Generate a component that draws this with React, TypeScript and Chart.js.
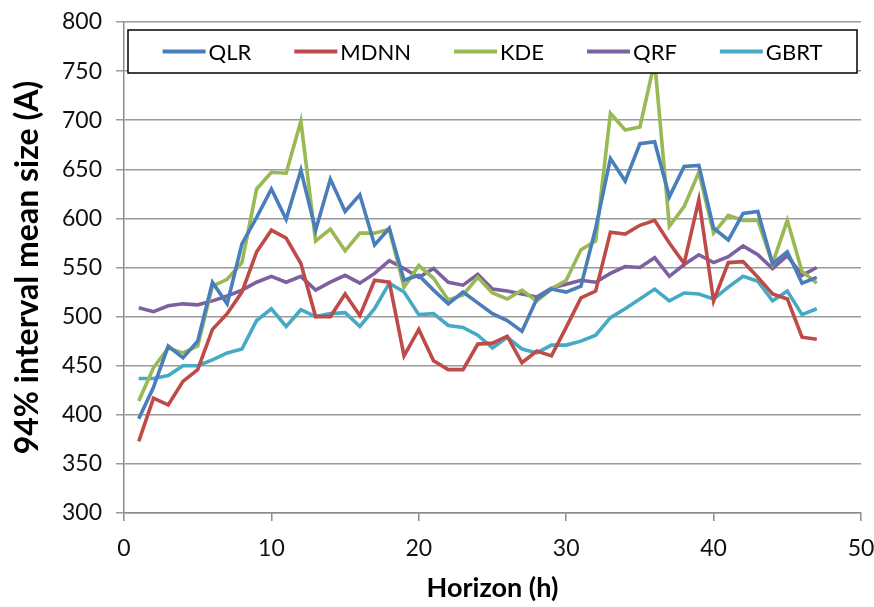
import React, { useEffect, useRef } from "react";
import { Chart, registerables } from "chart.js";

Chart.register(...registerables);

const horizons = [1, 2, 3, 4, 5, 6, 7, 8, 9, 10, 11, 12, 13, 14, 15, 16, 17, 18, 19, 20, 21, 22, 23, 24, 25, 26, 27, 28, 29, 30, 31, 32, 33, 34, 35, 36, 37, 38, 39, 40, 41, 42, 43, 44, 45, 46, 47];

const qlr = [396, 428, 470, 458, 475, 535, 513, 574, 601, 630, 599, 649, 588, 640, 607, 624, 573, 590, 537, 542, 527, 513, 525, 514, 503, 496, 485, 518, 528, 525, 531, 590, 661, 638, 676, 678, 622, 653, 654, 590, 578, 605, 607, 554, 566, 534, 540];
const mdnn = [373, 417, 410, 434, 446, 487, 503, 525, 566, 588, 580, 554, 500, 500, 523, 501, 537, 535, 460, 487, 455, 446, 446, 472, 473, 480, 453, 465, 460, 489, 519, 526, 586, 584, 593, 598, 575, 554, 619, 516, 555, 556, 540, 523, 518, 479, 477];
const kde = [414, 448, 468, 463, 470, 531, 538, 555, 630, 647, 646, 699, 577, 589, 567, 585, 585, 589, 530, 552, 539, 517, 522, 540, 524, 518, 527, 516, 528, 537, 568, 577, 707, 690, 693, 760, 592, 612, 647, 585, 603, 598, 598, 554, 598, 546, 534];
const qrf = [509, 505, 511, 513, 512, 516, 521, 527, 535, 541, 535, 541, 527, 535, 542, 534, 544, 557, 549, 540, 549, 535, 532, 543, 528, 526, 523, 520, 529, 533, 537, 535, 544, 551, 550, 560, 541, 553, 563, 555, 561, 572, 563, 549, 562, 542, 550];
const gbrt = [437, 437, 440, 450, 450, 456, 463, 467, 496, 508, 490, 507, 500, 503, 504, 490, 508, 534, 525, 502, 503, 491, 489, 481, 468, 479, 467, 463, 471, 471, 475, 481, 499, 508, 518, 528, 516, 524, 523, 518, 530, 541, 536, 516, 526, 502, 508];

const seriesNames = ["QLR", "MDNN", "KDE", "QRF", "GBRT"];
const seriesValues = [qlr, mdnn, kde, qrf, gbrt];
const seriesColors = ["#4A7EBB", "#BE4B48", "#98B954", "#7D60A0", "#46AAC5"];

const xTicks = [0, 10, 20, 30, 40, 50];
const yMin = 300;
const yMax = 800;
const yStep = 50;

const FONT = "Lato, 'Open Sans', sans-serif";

const boxLegend = {
  id: "boxLegend",
  afterDatasetsDraw(chart: any) {
    const { ctx, chartArea } = chart;
    const left = chartArea.left + 4;
    const right = chartArea.right - 4;
    const top = chartArea.top + 8;
    const height = 43;
    ctx.save();
    ctx.fillStyle = "#ffffff";
    ctx.fillRect(left, top, right - left, height);
    ctx.strokeStyle = "#000000";
    ctx.lineWidth = 1.5;
    ctx.strokeRect(left, top, right - left, height);

    ctx.font = `22px ${FONT}`;
    const lineLen = 43;
    const textGap = 3;
    const itemGap = 43;
    const ds = chart.data.datasets;
    const widths = ds.map((d: any) => lineLen + textGap + ctx.measureText(d.label).width);
    const total = widths.reduce((a: number, b: number) => a + b, 0) + itemGap * (ds.length - 1);
    let x = (left + right) / 2 - total / 2;
    const cy = top + height / 2;
    ds.forEach((d: any, i: number) => {
      ctx.strokeStyle = d.borderColor;
      ctx.lineWidth = 4;
      ctx.lineCap = "butt";
      ctx.beginPath();
      ctx.moveTo(x, cy);
      ctx.lineTo(x + lineLen, cy);
      ctx.stroke();
      ctx.fillStyle = "#000000";
      ctx.textAlign = "left";
      ctx.textBaseline = "middle";
      ctx.fillText(d.label, x + lineLen + textGap, cy + 1);
      x += widths[i] + itemGap;
    });
    ctx.restore();
  },
};

export default function App() {
  const ref = useRef<HTMLCanvasElement | null>(null);

  useEffect(() => {
    if (!ref.current) return;
    const chart = new Chart(ref.current, {
      type: "line",
      data: {
        datasets: seriesNames.map((name, i) => ({
          label: name,
          data: horizons.map((h, j) => ({ x: h, y: seriesValues[i][j] })),
          borderColor: seriesColors[i],
          backgroundColor: seriesColors[i],
          borderWidth: 3.6,
          pointRadius: 0,
          tension: 0,
          fill: false,
        })),
      },
      options: {
        animation: false,
        responsive: false,
        devicePixelRatio: 1,
        layout: { padding: { left: 0, right: 13, top: 22, bottom: 0 } },
        plugins: {
          legend: { display: false },
          tooltip: { enabled: false },
        },
        scales: {
          x: {
            type: "linear",
            min: 0,
            max: 50,
            afterBuildTicks: (scale: any) => {
              scale.ticks = xTicks.map((v) => ({ value: v }));
            },
            afterFit: (scale: any) => {
              scale.height = 94;
              scale.paddingLeft = 0;
              scale.paddingRight = 0;
            },
            grid: {
              drawOnChartArea: false,
              drawTicks: true,
              tickLength: 8,
              color: "#8c8c8c",
              lineWidth: 1.5,
            },
            border: { display: true, color: "#8c8c8c", width: 1.5 },
            ticks: {
              padding: 14,
              color: "#111111",
              font: { family: FONT, size: 23 },
              maxRotation: 0,
            },
            title: {
              display: true,
              text: "Horizon (h)",
              color: "#000000",
              font: { family: FONT, size: 27, weight: "bold" },
              padding: { top: 0, bottom: 3 },
            },
          },
          y: {
            type: "linear",
            min: yMin,
            max: yMax,
            ticks: {
              stepSize: yStep,
              padding: 14,
              color: "#111111",
              font: { family: FONT, size: 23 },
            },
            afterFit: (scale: any) => {
              scale.width = 124;
              scale.paddingTop = 0;
              scale.paddingBottom = 0;
            },
            grid: {
              drawOnChartArea: true,
              drawTicks: true,
              tickLength: 8,
              color: "#9a9a9a",
              lineWidth: 1.5,
            },
            border: { display: true, color: "#8c8c8c", width: 1.5 },
            title: {
              display: true,
              text: "94% interval mean size (A)",
              color: "#000000",
              font: { family: FONT, size: 32, weight: "bold" },
              padding: { top: 8, bottom: 0 },
            },
          },
        },
      },
      plugins: [boxLegend],
    });
    return () => chart.destroy();
  }, []);

  return (
    <div style={{ position: "absolute", left: 0, top: 0, width: 874, height: 607, background: "#ffffff" }}>
      <canvas ref={ref} width={874} height={607} style={{ display: "block" }} />
    </div>
  );
}
